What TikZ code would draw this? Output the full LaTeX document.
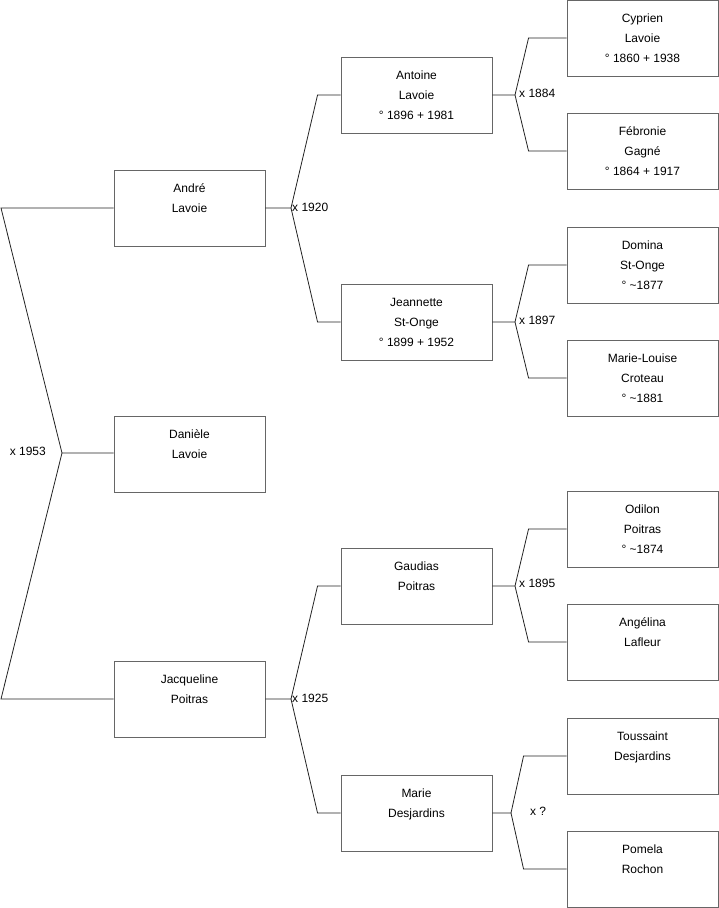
\documentclass[tikz,border=0pt]{standalone}
\usepackage{fontspec}
\setmainfont{Liberation Sans}
\begin{document}
\begin{tikzpicture}[x=1pt,y=-1pt,
  person/.style={draw=boxgray,line width=0.9pt,fill=white,minimum width=151pt,minimum height=76pt,
    inner sep=0pt,align=center,font=\fontsize{12}{20}\selectfont},
  link/.style={draw=linecol,line width=0.8pt},
  marr/.style={font=\fontsize{12}{14}\selectfont,inner sep=1pt}]
\definecolor{boxgray}{HTML}{666666}
\definecolor{linecol}{HTML}{222222}
\useasboundingbox (0,0) rectangle (719,908);
% generation 3
\node[person] (cyp) at (642.5,38) {Cyprien\\Lavoie\\° 1860 + 1938};
\node[person] (feb) at (642.5,151) {Fébronie\\Gagné\\° 1864 + 1917};
\node[person] (dom) at (642.5,265) {Domina\\St-Onge\\° \textasciitilde1877};
\node[person] (mlc) at (642.5,378) {Marie-Louise\\Croteau\\° \textasciitilde1881};
\node[person] (odi) at (642.5,529) {Odilon\\Poitras\\° \textasciitilde1874};
\node[person] (ang) at (642.5,642) {Angélina\\Lafleur\\\mbox{}};
\node[person] (tou) at (642.5,756) {Toussaint\\Desjardins\\\mbox{}};
\node[person] (pom) at (642.5,869) {Pomela\\Rochon\\\mbox{}};
% generation 2
\node[person] (ant) at (416.5,95) {Antoine\\Lavoie\\° 1896 + 1981};
\node[person] (jea) at (416.5,322) {Jeannette\\St-Onge\\° 1899 + 1952};
\node[person] (gau) at (416.5,586) {Gaudias\\Poitras\\\mbox{}};
\node[person] (mar) at (416.5,813) {Marie\\Desjardins\\\mbox{}};
% generation 1
\node[person] (and) at (189.5,208) {André\\Lavoie\\\mbox{}};
\node[person] (jac) at (189.5,699) {Jacqueline\\Poitras\\\mbox{}};
% root
\node[person] (dan) at (189.5,454) {Danièle\\Lavoie\\\mbox{}};
% junctions
\coordinate (j0) at (62,453);
\coordinate (j1) at (291,208);
\coordinate (j2) at (291,699);
\coordinate (j3) at (515,95);
\coordinate (j4) at (515,322);
\coordinate (j5) at (515,586);
\coordinate (j6) at (511,813);
% connectors
\draw[link] (dan.west |- j0) -- (j0) -- (1,208) -- (and.west);
\draw[link] (j0) -- (1,699) -- (jac.west);
\draw[link] (and.east) -- (j1) -- ([xshift=-23pt]ant.west) -- (ant.west);
\draw[link] (j1) -- ([xshift=-23pt]jea.west) -- (jea.west);
\draw[link] (jac.east) -- (j2) -- ([xshift=-23pt]gau.west) -- (gau.west);
\draw[link] (j2) -- ([xshift=-23pt]mar.west) -- (mar.west);
\draw[link] (ant.east) -- (j3) -- ([xshift=-38pt]cyp.west) -- (cyp.west);
\draw[link] (j3) -- ([xshift=-38pt]feb.west) -- (feb.west);
\draw[link] (jea.east) -- (j4) -- ([xshift=-38pt]dom.west) -- (dom.west);
\draw[link] (j4) -- ([xshift=-38pt]mlc.west) -- (mlc.west);
\draw[link] (gau.east) -- (j5) -- ([xshift=-38pt]odi.west) -- (odi.west);
\draw[link] (j5) -- ([xshift=-38pt]ang.west) -- (ang.west);
\draw[link] (mar.east) -- (j6) -- ([xshift=-43pt]tou.west) -- (tou.west);
\draw[link] (j6) -- ([xshift=-43pt]pom.west) -- (pom.west);
% marriage labels
\node[marr,anchor=east] (m0) at (47,451) {x 1953};
\node[marr,anchor=west] (m1) at (291,207) {x 1920};
\node[marr,anchor=west] (m2) at (291,698) {x 1925};
\node[marr,anchor=west] (m3) at (518,93) {x 1884};
\node[marr,anchor=west] (m4) at (518,320) {x 1897};
\node[marr,anchor=west] (m5) at (518,583) {x 1895};
\node[marr] (m6) at (538,811) {x ?};
\end{tikzpicture}
\end{document}
